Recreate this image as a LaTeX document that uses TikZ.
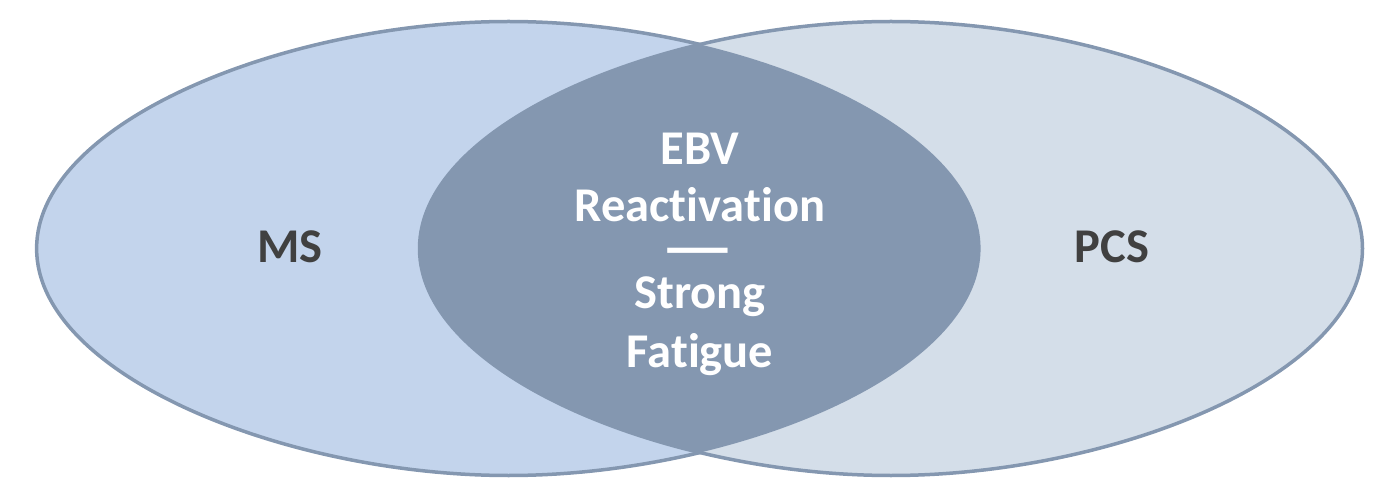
\documentclass[tikz,border=0pt]{standalone}
\usepackage{fontspec}
\setmainfont{Carlito}[Ligatures={NoCommon,NoContextual}]
\definecolor{leftfill}{HTML}{C3D4EC}
\definecolor{rightfill}{HTML}{D4DEE9}
\definecolor{lensfill}{HTML}{8497B0}
\definecolor{rimcol}{HTML}{8497B0}
\definecolor{labgray}{HTML}{404040}
% oval path: centre x, centre y, half width, half height
\newcommand{\ovalpath}[4]{%
  ({#1+#3},{#2}) .. controls ({#1+#3},{#2+0.56*#4}) and ({#1+0.47*#3},{#2+#4}) .. ({#1},{#2+#4})
  .. controls ({#1-0.47*#3},{#2+#4}) and ({#1-#3},{#2+0.56*#4}) .. ({#1-#3},{#2})
  .. controls ({#1-#3},{#2-0.56*#4}) and ({#1-0.47*#3},{#2-#4}) .. ({#1},{#2-#4})
  .. controls ({#1+0.47*#3},{#2-#4}) and ({#1+#3},{#2-0.56*#4}) .. ({#1+#3},{#2}) -- cycle}
\begin{document}
\begin{tikzpicture}[x=1pt,y=1pt,
  rim/.style={draw=rimcol,line width=3.5pt},
  sidelabel/.style={font=\fontsize{48.5}{48.5}\selectfont\bfseries,text=labgray,anchor=base,inner sep=0pt},
  lenslabel/.style={font=\fontsize{48.5}{48.5}\selectfont\bfseries,text=white,anchor=base,inner sep=0pt}]
\useasboundingbox (0,0) rectangle (1386,493);
\fill[leftfill] \ovalpath{508.6}{244.5}{472}{227};
\draw[rim] \ovalpath{508.6}{244.5}{472}{227};
\fill[rightfill] \ovalpath{891}{244.5}{471.5}{227};
\draw[rim] \ovalpath{891}{244.5}{471.5}{227};
\begin{scope}
  \clip \ovalpath{508.6}{244.5}{472}{227};
  \fill[lensfill] \ovalpath{891}{244.5}{471.5}{227};
\end{scope}
\node[sidelabel] (ms) at (290,230) {MS};
\node[sidelabel] (pcs) at (1112,230) {PCS};
\node[lenslabel] (ebv) at (700,328) {EBV};
\node[lenslabel] (react) at (700,271) {Reactivation};
\node[lenslabel,font=\fontsize{59}{59}\selectfont\bfseries] (dash) at (698,225) {\smash{\scalebox{1.4}[1]{—}}};
\node[lenslabel] (strong) at (700,185) {Strong};
\node[lenslabel] (fatigue) at (700,126) {Fatigue};
\end{tikzpicture}
\end{document}
